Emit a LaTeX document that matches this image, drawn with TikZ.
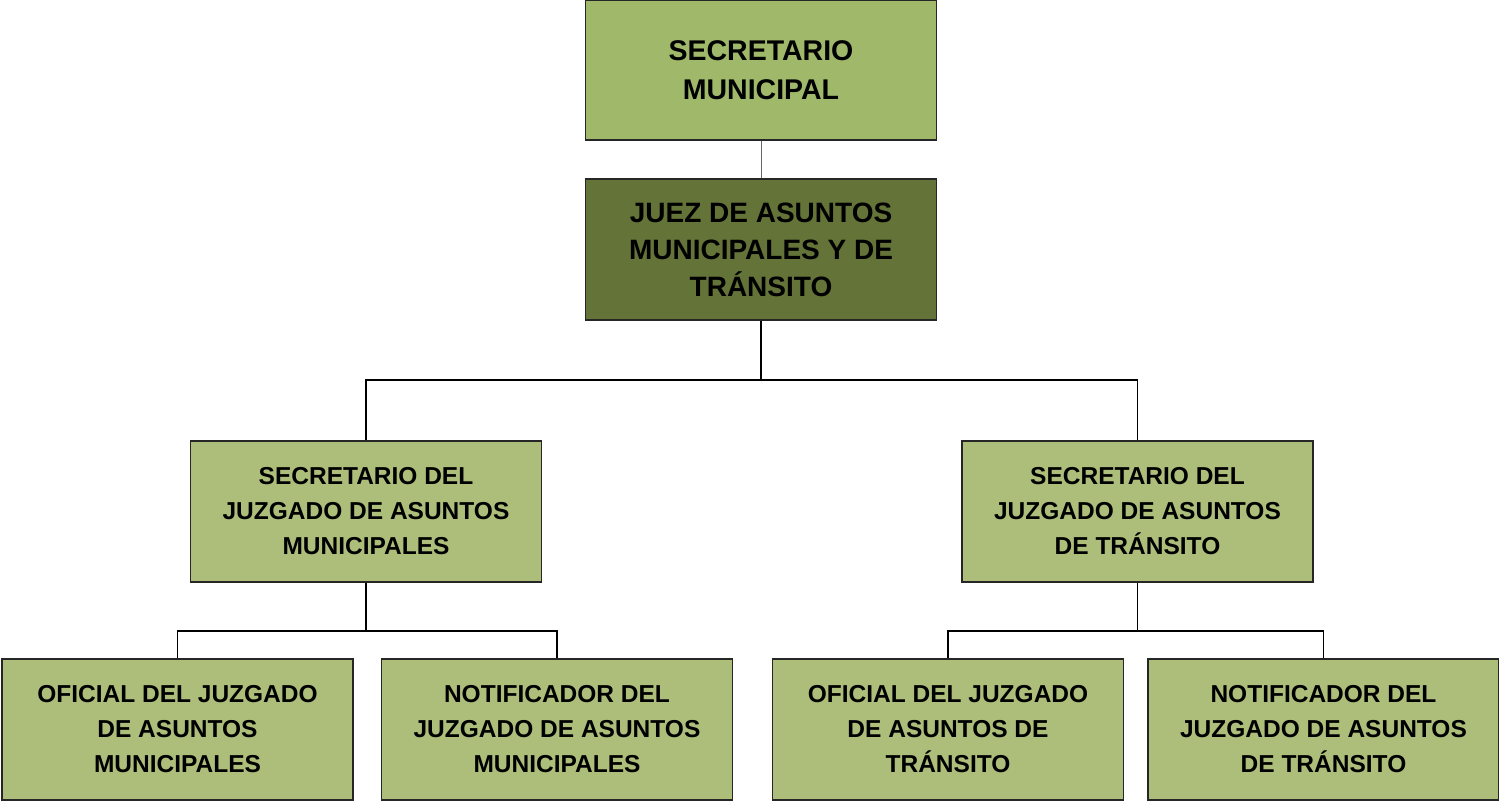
\documentclass[tikz,border=0pt]{standalone}
\usepackage{fontspec}
\setmainfont{Liberation Sans}
\definecolor{topgreen}{RGB}{160,184,106}
\definecolor{boxgreen}{RGB}{173,190,123}
\definecolor{darkolive}{RGB}{100,115,55}
\tikzset{
  orgbox/.style={draw=black!85, line width=1.6pt, fill=boxgreen, minimum width=351pt, minimum height=141pt, align=center, inner sep=0pt, font=\bfseries\fontsize{24.5}{35}\selectfont, text=black},
  link/.style={draw=black, line width=1.6pt},
}
\begin{document}
\begin{tikzpicture}[x=1pt,y=-1pt]
\useasboundingbox (0,0) rectangle (1499,803);
\node[orgbox, fill=topgreen, minimum height=140pt, font=\bfseries\fontsize{28.5}{39}\selectfont] (sm) at (761,70) {SECRETARIO\\MUNICIPAL};
\node[orgbox, fill=darkolive, font=\bfseries\fontsize{28}{37}\selectfont] (jz) at (761,249.5) {JUEZ DE ASUNTOS\\MUNICIPALES Y DE\\TRÁNSITO};
\node[orgbox] (sl) at (366,511.5) {SECRETARIO DEL\\JUZGADO DE ASUNTOS\\MUNICIPALES};
\node[orgbox] (sr) at (1137.5,511.5) {SECRETARIO DEL\\JUZGADO DE ASUNTOS\\DE TRÁNSITO};
\node[orgbox] (b1) at (177.5,729.5) {OFICIAL DEL JUZGADO\\DE ASUNTOS\\MUNICIPALES};
\node[orgbox] (b2) at (557,729.5) {NOTIFICADOR DEL\\JUZGADO DE ASUNTOS\\MUNICIPALES};
\node[orgbox] (b3) at (948,729.5) {OFICIAL DEL JUZGADO\\DE ASUNTOS DE\\TRÁNSITO};
\node[orgbox] (b4) at (1323.5,729.5) {NOTIFICADOR DEL\\JUZGADO DE ASUNTOS\\DE TRÁNSITO};
\draw[draw=black!60, line width=1pt] (sm.south) -- (jz.north);
\draw[link] (jz.south) -- ++(0,59) -| (sl.north);
\draw[link] (jz.south) -- ++(0,59) -| (sr.north);
\draw[link] (sl.south) -- ++(0,48) -| (b1.north);
\draw[link] (sl.south) -- ++(0,48) -| (b2.north);
\draw[link] (sr.south) -- ++(0,48) -| (b3.north);
\draw[link] (sr.south) -- ++(0,48) -| (b4.north);
\end{tikzpicture}
\end{document}
